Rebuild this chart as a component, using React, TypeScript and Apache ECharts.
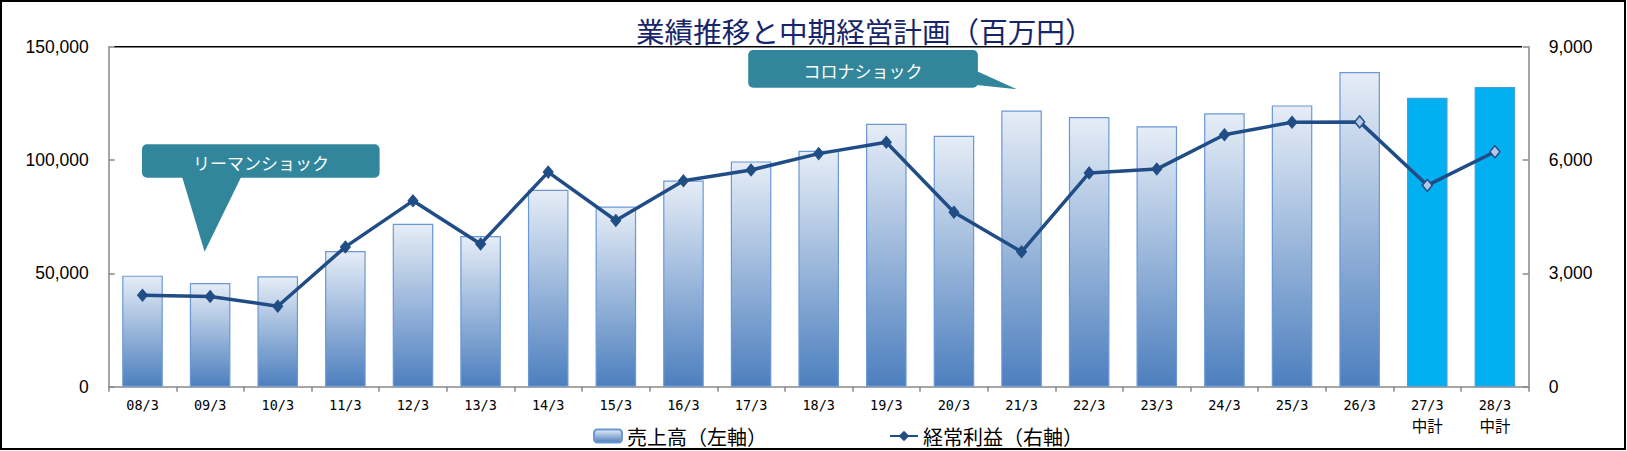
import React, { useEffect, useRef } from "react";
import * as echarts from "echarts";

const categories = ["08/3", "09/3", "10/3", "11/3", "12/3", "13/3", "14/3", "15/3", "16/3", "17/3", "18/3", "19/3", "20/3", "21/3", "22/3", "23/3", "24/3", "25/3", "26/3", "27/3\n中計", "28/3\n中計"];
const salesValues = [49000, 45700, 48700, 59900, 71900, 66500, 86900, 79500, 91000, 99400, 104100, 116000, 110700, 121800, 119000, 114900, 120600, 124100, 138800, 127500, 132200];
const profitValues = [2420, 2390, 2130, 3700, 4920, 3780, 5680, 4400, 5450, 5735, 6170, 6470, 4620, 3570, 5660, 5760, 6670, 7000, 7010, 5330, 6220];
const planIndices = [19, 20];
const lightMarkerIndices = [18, 19, 20];
const leftTicks = { min: 0, max: 150000, interval: 50000 };
const rightTicks = { min: 0, max: 9000, interval: 3000 };
const seriesNames = ["売上高（左軸）", "経常利益（右軸）"];
const titleText = "業績推移と中期経営計画（百万円）";
const calloutTexts = ["リーマンショック", "コロナショック"];

const LINE = "#214d86";
const TEAL = "#32869c";

function fmt(v: number) {
  return v.toLocaleString("en-US");
}

export default function App() {
  const ref = useRef<HTMLDivElement>(null);
  useEffect(() => {
    document.body.style.margin = "0";
    if (!ref.current) return;
    const chart = echarts.init(ref.current, null, { renderer: "svg" });
    const barGrad = new echarts.graphic.LinearGradient(0, 0, 0, 1, [
      { offset: 0, color: "#e6edf7" },
      { offset: 1, color: "#4d7fbe" },
    ]);
    const barData = salesValues.map((v, i) =>
      planIndices.includes(i)
        ? { value: v, itemStyle: { color: "#00b0f0", borderColor: "#4a9ed8" } }
        : v
    );
    const lineData = profitValues.map((v, i) =>
      lightMarkerIndices.includes(i)
        ? { value: v, itemStyle: { color: "#b3c8e6", borderColor: LINE, borderWidth: 1.5 } }
        : v
    );
    const axisLabelFont = "'Liberation Sans', Arial, sans-serif";
    chart.setOption({
      animation: false,
      backgroundColor: "#ffffff",
      title: {
        text: titleText,
        left: 631,
        top: 11,
        textStyle: {
          fontFamily: "'Noto Sans CJK JP', sans-serif",
          fontSize: 28.6,
          fontWeight: "normal",
          color: "#17266b",
        },
      },
      legend: {
        left: 588,
        top: 421,
        itemWidth: 28,
        itemHeight: 13,
        itemGap: 122,
        textStyle: {
          fontFamily: "'Noto Sans CJK JP', sans-serif",
          fontSize: 20,
          color: "#000",
        },
        data: seriesNames,
      },
      grid: { left: 108.7, right: 98.3, top: 46.7, bottom: 64.3 },
      xAxis: {
        type: "category",
        data: categories,
        boundaryGap: true,
        axisLine: { show: true, lineStyle: { color: "#898989", width: 1.5 } },
        axisTick: { show: true, length: 5, lineStyle: { color: "#898989", width: 1.5 } },
        axisLabel: {
          interval: 0,
          margin: 8,
          formatter: (val: string) => {
            const parts = val.split("\n");
            return parts.length > 1 ? `{a|${parts[0]}}\n{b|${parts[1]}}` : `{a|${parts[0]}}`;
          },
          rich: {
            a: { fontFamily: "'DejaVu Sans Mono', monospace", fontSize: 13.5, color: "#000", lineHeight: 20 },
            b: { fontFamily: "'Noto Sans CJK JP', sans-serif", fontSize: 15.5, color: "#000", lineHeight: 20 },
          },
        },
      },
      yAxis: [
        {
          type: "value",
          min: leftTicks.min,
          max: leftTicks.max,
          interval: leftTicks.interval,
          position: "left",
          axisLine: { show: true, lineStyle: { color: "#898989", width: 1.5 } },
          axisTick: { show: true, inside: true, length: 6, lineStyle: { color: "#898989", width: 1.5 } },
          splitLine: { show: false },
          axisLabel: { margin: 20, fontFamily: axisLabelFont, fontSize: 17.5, color: "#000", formatter: fmt },
        },
        {
          type: "value",
          min: rightTicks.min,
          max: rightTicks.max,
          interval: rightTicks.interval,
          position: "right",
          axisLine: { show: true, lineStyle: { color: "#898989", width: 1.5 } },
          axisTick: { show: true, inside: true, length: 6, lineStyle: { color: "#898989", width: 1.5 } },
          splitLine: { show: false },
          axisLabel: { margin: 20, fontFamily: axisLabelFont, fontSize: 17.5, color: "#000", formatter: fmt },
        },
      ],
      series: [
        {
          name: seriesNames[0],
          type: "bar",
          yAxisIndex: 0,
          barCategoryGap: "40%",
          data: barData,
          itemStyle: { color: barGrad, borderColor: "#6a98d6", borderWidth: 1.2 },
        },
        {
          name: seriesNames[1],
          type: "line",
          yAxisIndex: 1,
          data: lineData,
          symbol: "diamond",
          symbolSize: [10, 12],
          lineStyle: { color: LINE, width: 3.5 },
          itemStyle: { color: LINE, borderColor: LINE },
          z: 5,
        },
      ],
      graphic: [
        {
          type: "rect",
          shape: { x: 1, y: 1, width: 1624, height: 448 },
          style: { fill: "none", stroke: "#000", lineWidth: 2 },
          silent: true,
        },
        {
          type: "line",
          shape: { x1: 114, y1: 46.7, x2: 1522, y2: 46.7 },
          style: { stroke: "#000", lineWidth: 1.5 },
          silent: true,
        },
        {
          type: "rect",
          shape: { x: 142, y: 144.3, width: 237.6, height: 33.4, r: 5 },
          style: { fill: TEAL },
          z: 10,
        },
        {
          type: "polygon",
          shape: { points: [[182, 176.5], [241.4, 176.5], [204.6, 251.7]] },
          style: { fill: TEAL },
          z: 10,
        },
        {
          type: "text",
          x: 261,
          y: 162,
          style: {
            text: calloutTexts[0],
            fill: "#fff",
            font: "17px 'Noto Sans CJK JP', sans-serif",
            textAlign: "center",
            textVerticalAlign: "middle",
          },
          z: 11,
        },
        {
          type: "rect",
          shape: { x: 748.2, y: 50, width: 229.7, height: 37.7, r: 5 },
          style: { fill: TEAL },
          z: 10,
        },
        {
          type: "polygon",
          shape: { points: [[976.5, 71], [1016.8, 89.3], [976.5, 85]] },
          style: { fill: TEAL },
          z: 10,
        },
        {
          type: "text",
          x: 863,
          y: 70,
          style: {
            text: calloutTexts[1],
            fill: "#fff",
            font: "17px 'Noto Sans CJK JP', sans-serif",
            textAlign: "center",
            textVerticalAlign: "middle",
          },
          z: 11,
        },
      ],
    });
    return () => chart.dispose();
  }, []);
  return <div ref={ref} style={{ width: 1627, height: 451 }} />;
}
